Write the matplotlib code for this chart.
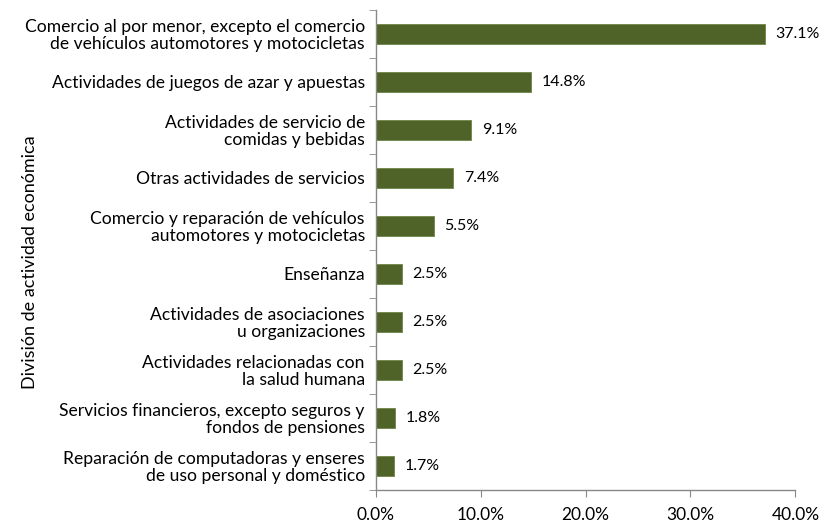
import matplotlib.pyplot as plt
from matplotlib.ticker import FixedLocator, PercentFormatter

# Share of establishments by economic activity division (%)
categorias = [
    "Comercio al por menor, excepto el comercio\nde vehículos automotores y motocicletas",
    "Actividades de juegos de azar y apuestas",
    "Actividades de servicio de\ncomidas y bebidas",
    "Otras actividades de servicios",
    "Comercio y reparación de vehículos\nautomotores y motocicletas",
    "Enseñanza",
    "Actividades de asociaciones\nu organizaciones",
    "Actividades relacionadas con\nla salud humana",
    "Servicios financieros, excepto seguros y\nfondos de pensiones",
    "Reparación de computadoras y enseres\nde uso personal y doméstico",
]
porcentajes = [37.1, 14.8, 9.1, 7.4, 5.5, 2.5, 2.5, 2.5, 1.8, 1.7]
ticks_x = [0, 10, 20, 30, 40]

plt.rcParams['font.family'] = ['Lato', 'DejaVu Sans']

fig = plt.figure(figsize=(8.39, 5.24), dpi=100)
ax = fig.add_axes([0.448, 0.065, 0.5, 0.916])

n = len(categorias)
pos = list(range(n))
ax.barh(pos, porcentajes, height=0.42, color='#4F6228', edgecolor='#6E8446', linewidth=0.6)

for p, v in zip(pos, porcentajes):
    ax.text(v + 1.0, p, f"{v:.1f}%", va='center', ha='left', fontsize=11.5)

ax.set_ylim(n - 0.5, -0.5)
ax.set_xlim(0, 40)
ax.set_yticks(pos)
ax.set_yticklabels(categorias, fontsize=12.6, linespacing=1.05)
ax.yaxis.set_minor_locator(FixedLocator([i - 0.5 for i in range(n + 1)]))
ax.tick_params(axis='y', which='major', length=0, pad=8)
ax.tick_params(axis='y', which='minor', length=5, color='#888888', direction='out')

ax.set_xticks(ticks_x)
ax.xaxis.set_major_formatter(PercentFormatter(decimals=1))
ax.tick_params(axis='x', length=5, color='#888888', labelsize=12.5, pad=7)

for s in ['top', 'right']:
    ax.spines[s].set_visible(False)
for s in ['left', 'bottom']:
    ax.spines[s].set_color('#888888')
    ax.spines[s].set_linewidth(1.0)

fig.text(0.036, 0.5, "División de actividad económica", rotation=90, va='center', ha='center', fontsize=13)

fig.savefig('out.png', dpi=100)
